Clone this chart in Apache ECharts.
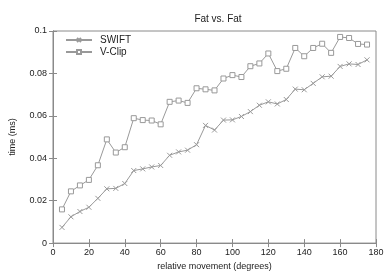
<!DOCTYPE html>
<html>
<head>
<meta charset="utf-8">
<script src="https://cdn.jsdelivr.net/npm/echarts@6/dist/echarts.min.js"></script>
<style>html,body{margin:0;padding:0;background:#fff}#c{width:390px;height:276px}</style>
</head>
<body>
<div id="c"></div>
<script>
const degrees = [5,10,15,20,25,30,35,40,45,50,55,60,65,70,75,80,85,90,95,100,105,110,115,120,125,130,135,140,145,150,155,160,165,170,175];
const swift = [0.0074,0.0124,0.0149,0.0169,0.0211,0.0256,0.0258,0.0281,0.0342,0.035,0.0359,0.0366,0.0414,0.043,0.0438,0.0464,0.0555,0.0533,0.058,0.0581,0.0597,0.062,0.065,0.0666,0.0656,0.0677,0.0726,0.0723,0.0753,0.0784,0.0787,0.0833,0.0845,0.0842,0.0864];
const vclip = [0.0159,0.0244,0.0272,0.0298,0.0367,0.0489,0.0427,0.0452,0.0589,0.058,0.0578,0.056,0.0666,0.0672,0.0661,0.073,0.0725,0.072,0.0776,0.0792,0.0783,0.0834,0.0847,0.0894,0.0811,0.0822,0.092,0.0881,0.092,0.094,0.0897,0.0972,0.0967,0.0939,0.0936];
const seriesNames = ['SWIFT','V-Clip'];
const titleText = 'Fat vs. Fat';
const xName = 'relative movement (degrees)';
const yName = 'time (ms)';

const lineColor = '#999';
const textColor = '#222';
const font = 'Liberation Sans, Arial, sans-serif';
const axisCol = '#8a8a8a';

function pairs(xs, ys){ return xs.map((x,i)=>[x, ys[i]]); }

const chart = echarts.init(document.getElementById('c'), null, {renderer:'canvas'});
const baseX = {type:'value', min:0, max:180, interval:20};
const baseY = {type:'value', min:0, max:0.1, interval:0.02};
chart.setOption({
  animation:false,
  title:{text:titleText, left:213, top:9, textAlign:'center',
    textStyle:{fontSize:10, fontWeight:'normal', color:textColor, fontFamily:font}},
  grid:{left:50, right:14, top:31, bottom:31, show:true, borderColor:axisCol, borderWidth:1},
  legend:{left:60, top:30, orient:'vertical', itemWidth:26, itemHeight:5, itemGap:2,
    data:seriesNames,
    textStyle:{fontSize:10, color:textColor, fontFamily:font, padding:[0,0,0,3]}},
  xAxis:[
    Object.assign({}, baseX, {position:'bottom', name:xName, nameLocation:'middle', nameGap:17,
      nameTextStyle:{fontSize:9, color:textColor, fontFamily:font},
      axisLine:{show:true, lineStyle:{color:axisCol}},
      axisTick:{show:true, inside:true, length:4, lineStyle:{color:axisCol}},
      axisLabel:{fontSize:9, color:textColor, fontFamily:font, margin:5},
      splitLine:{show:false}}),
    Object.assign({}, baseX, {position:'top',
      axisLine:{show:true, lineStyle:{color:axisCol}},
      axisTick:{show:true, inside:true, length:4, lineStyle:{color:axisCol}},
      axisLabel:{show:false}, splitLine:{show:false}})
  ],
  yAxis:[
    Object.assign({}, baseY, {position:'left', name:yName, nameLocation:'middle', nameGap:36,
      nameTextStyle:{fontSize:9, color:textColor, fontFamily:font},
      axisLine:{show:true, lineStyle:{color:axisCol}},
      axisTick:{show:true, inside:true, length:4, lineStyle:{color:axisCol}},
      axisLabel:{fontSize:9, color:textColor, fontFamily:font, margin:6},
      splitLine:{show:false}}),
    Object.assign({}, baseY, {position:'right',
      axisLine:{show:true, lineStyle:{color:axisCol}},
      axisTick:{show:true, inside:true, length:4, lineStyle:{color:axisCol}},
      axisLabel:{show:false}, splitLine:{show:false}})
  ],
  series:[
    {name:seriesNames[0], type:'line', data:pairs(degrees, swift),
     symbol:'path://M0,0L10,10M10,0L0,10', symbolSize:5,
     lineStyle:{color:lineColor, width:1},
     itemStyle:{color:'rgba(0,0,0,0)', borderColor:lineColor, borderWidth:1}},
    {name:seriesNames[1], type:'line', data:pairs(degrees, vclip),
     symbol:'rect', symbolSize:5,
     lineStyle:{color:lineColor, width:1},
     itemStyle:{color:'#fff', borderColor:lineColor, borderWidth:1}}
  ]
});
</script>
</body>
</html>
